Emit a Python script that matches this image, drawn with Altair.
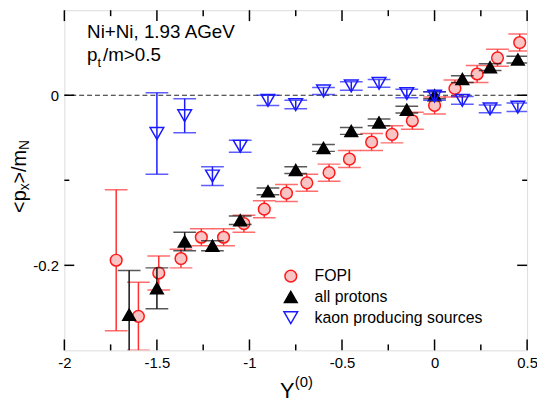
import altair as alt
import pandas as pd

# ---------------- data ----------------
series_names = ["FOPI", "all protons", "kaon producing sources"]

fopi_x = [-1.72, -1.60, -1.49, -1.37, -1.26, -1.14, -1.03, -0.92, -0.80, -0.69,
          -0.57, -0.46, -0.34, -0.23, -0.12, 0.00, 0.11, 0.23, 0.34, 0.46]
fopi_y = [-0.194, -0.260, -0.209, -0.192, -0.167, -0.167, -0.151, -0.134, -0.115, -0.103,
          -0.091, -0.075, -0.055, -0.046, -0.030, -0.012, 0.008, 0.025, 0.044, 0.062]
fopi_err = [0.083, 0.040, 0.020, 0.011, 0.010, 0.010, 0.010, 0.010, 0.010, 0.010,
            0.010, 0.010, 0.010, 0.010, 0.010, 0.010, 0.010, 0.010, 0.010, 0.010]

prot_x = [-1.65, -1.50, -1.35, -1.20, -1.05, -0.90, -0.75, -0.60, -0.45, -0.30,
          -0.15, 0.00, 0.15, 0.30, 0.45]
prot_y = [-0.258, -0.227, -0.172, -0.177, -0.147, -0.113, -0.088, -0.062, -0.042, -0.032,
          -0.017, 0.000, 0.019, 0.033, 0.042]
prot_err = [0.052, 0.024, 0.011, 0.006, 0.005, 0.004, 0.004, 0.004, 0.004, 0.004,
            0.004, 0.004, 0.004, 0.004, 0.004]

kaon_x = [-1.50, -1.35, -1.20, -1.05, -0.90, -0.75, -0.60, -0.45, -0.30, -0.15,
          0.00, 0.15, 0.30, 0.45]
kaon_y = [-0.045, -0.024, -0.095, -0.060, -0.006, -0.011, 0.005, 0.011, 0.014, 0.002,
          -0.001, -0.006, -0.016, -0.014]
kaon_err = [0.048, 0.020, 0.011, 0.007, 0.006, 0.005, 0.004, 0.005, 0.0045, 0.005,
            0.005, 0.0045, 0.0045, 0.005]

x_tick_labels = [-2, -1.5, -1, -0.5, 0, 0.5]
x_minor_ticks = [-1.75, -1.25, -0.75, -0.25, 0.25]
y_tick_labels = [0, -0.2]
y_minor_ticks = [-0.1]

title_line1 = "Ni+Ni, 1.93 AGeV"
title_line2 = ["p", "t", "/m>0.5"]
ytitle_parts = ["<p", "x", ">/m", "N"]
xtitle_parts = ["Y", "(0)"]

# ---------------- style ----------------
FONT = "Liberation Sans"
W, H = 468, 344
colors = {"FOPI": "#ff1a1a", "all protons": "#000000", "kaon producing sources": "#1a1aff"}
bar_colors = {"FOPI": "#ff3030", "all protons": "#111111", "kaon producing sources": "#1a1aff"}


def make_df(name, xs, ys, errs):
    d = pd.DataFrame({"x": xs, "y": ys, "err": errs})
    d["lo"] = d["y"] - d["err"]
    d["hi"] = d["y"] + d["err"]
    d["series"] = name
    return d


dfs = [make_df("FOPI", fopi_x, fopi_y, fopi_err),
       make_df("all protons", prot_x, prot_y, prot_err),
       make_df("kaon producing sources", kaon_x, kaon_y, kaon_err)]

xscale = alt.Scale(domain=[-2, 0.5], nice=False, zero=False)
yscale = alt.Scale(domain=[-0.3, 0.1], nice=False, zero=False)
xaxis = alt.Axis(values=x_tick_labels, labelExpr="'' + datum.value", ticks=False, domain=False,
                 grid=False, title=None, labelFontSize=15, labelFont=FONT, labelColor="black",
                 labelPadding=5, labelFlush=False)
yaxis = alt.Axis(values=y_tick_labels, labelExpr="'' + datum.value", ticks=False, domain=False,
                 grid=False, title=None, labelFontSize=15, labelFont=FONT, labelColor="black",
                 labelPadding=6)


def X(field="x"):
    return alt.X(f"{field}:Q", scale=xscale, axis=xaxis)


def Y(field="y"):
    return alt.Y(f"{field}:Q", scale=yscale, axis=yaxis)


legend = alt.Legend(title=None, orient="none", legendX=221, legendY=261, labelFont=FONT,
                    labelFontSize=16, labelColor="black", labelOffset=16, rowPadding=3,
                    symbolStrokeWidth=1.5, padding=0, labelLimit=300)
shape_enc = alt.Shape("series:N", scale=alt.Scale(domain=series_names,
                      range=["circle", "triangle-up", "triangle-down"]), legend=legend)
fill_enc = alt.Fill("series:N", scale=alt.Scale(domain=series_names,
                    range=["#f8c4c4", "#000000", "transparent"]), legend=legend)
stroke_enc = alt.Stroke("series:N", scale=alt.Scale(domain=series_names,
                        range=[colors[n] for n in series_names]), legend=legend)
size_enc = alt.Size("series:N", scale=alt.Scale(domain=series_names, range=[140, 190, 150]),
                    legend=legend)

layers = []

# zero line
zero_df = pd.DataFrame({"y": [0.0]})
layers.append(alt.Chart(zero_df).mark_rule(color="#222222", strokeWidth=1, strokeDash=[5, 3])
              .encode(y=Y()))

for d in dfs:
    name = d["series"].iloc[0]
    c = bar_colors[name]
    base = alt.Chart(d)
    layers.append(base.mark_rule(color=c, strokeWidth=1.5, clip=True).encode(x=X(), y=Y("lo"), y2="hi"))
    layers.append(base.mark_tick(orient="horizontal", color=c, thickness=1.5, size=23, clip=True)
                  .encode(x=X(), y=Y("lo")))
    layers.append(base.mark_tick(orient="horizontal", color=c, thickness=1.5, size=23, clip=True)
                  .encode(x=X(), y=Y("hi")))
    layers.append(base.mark_point(opacity=1, fillOpacity=1, strokeWidth=1.5)
                  .encode(x=X(), y=Y(), shape=shape_enc, fill=fill_enc, stroke=stroke_enc,
                          size=size_enc))

# inward ticks
xmaj = pd.DataFrame({"x": x_tick_labels})
xmin = pd.DataFrame({"x": x_minor_ticks})
ymaj = pd.DataFrame({"y": y_tick_labels})
ymin = pd.DataFrame({"y": y_minor_ticks})
tk = dict(color="black", strokeWidth=1.5)
layers += [
    alt.Chart(xmaj).mark_rule(**tk).encode(x=X(), y=alt.value(H), y2=alt.value(H - 11)),
    alt.Chart(xmaj).mark_rule(**tk).encode(x=X(), y=alt.value(0), y2=alt.value(11)),
    alt.Chart(xmin).mark_rule(**tk).encode(x=X(), y=alt.value(H), y2=alt.value(H - 6)),
    alt.Chart(xmin).mark_rule(**tk).encode(x=X(), y=alt.value(0), y2=alt.value(6)),
    alt.Chart(ymaj).mark_rule(**tk).encode(y=Y(), x=alt.value(0), x2=alt.value(10)),
    alt.Chart(ymaj).mark_rule(**tk).encode(y=Y(), x=alt.value(W), x2=alt.value(W - 10)),
    alt.Chart(ymin).mark_rule(**tk).encode(y=Y(), x=alt.value(0), x2=alt.value(5)),
    alt.Chart(ymin).mark_rule(**tk).encode(y=Y(), x=alt.value(W), x2=alt.value(W - 5)),
]


def txt(s, x, y, size, angle=0):
    return (alt.Chart(pd.DataFrame({"t": [s]}))
            .mark_text(align="left", baseline="alphabetic", font=FONT, fontSize=size,
                       color="black", angle=angle)
            .encode(text="t:N", x=alt.value(x), y=alt.value(y)))


# annotation
layers.append(txt(title_line1, 23, 28, 19))
layers.append(txt(title_line2[0], 23, 51, 19))
layers.append(txt(title_line2[1], 33.6, 57, 13))
layers.append(txt(title_line2[2], 39, 51, 19))

# x title
layers.append(txt(xtitle_parts[0], 218, 392, 22))
layers.append(txt(xtitle_parts[1], 233, 381, 15))

# y title (rotated)
layers.append(txt(ytitle_parts[0], -39, 205, 20, 270))
layers.append(txt(ytitle_parts[1], -36, 182.2, 14, 270))
layers.append(txt(ytitle_parts[2], -39, 175.2, 20, 270))
layers.append(txt(ytitle_parts[3], -36, 141.3, 14, 270))

chart = (alt.layer(*layers)
         .properties(width=W, height=H,
                     padding={"left": 57, "top": 0, "right": 10, "bottom": 51},
                     autosize=alt.AutoSizeParams(type="none"))
         .configure_view(stroke="black", strokeWidth=2)
         .configure(font=FONT))

chart.save("out.html", embed_options={"renderer": "svg", "actions": False})
